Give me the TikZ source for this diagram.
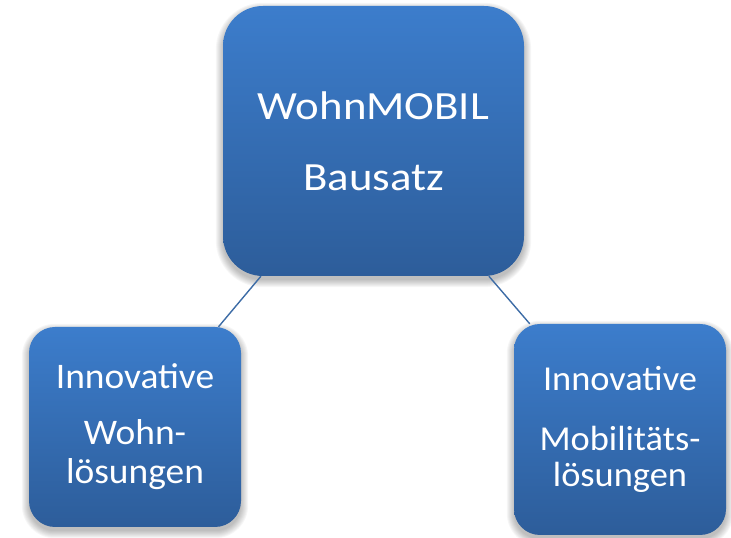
\documentclass[tikz,border=0pt]{standalone}
\usepackage{fontspec}
\setmainfont{Carlito}
\newfontfamily\kitfont[FakeStretch=1.12]{Carlito}
\newfontfamily\sidefont[FakeStretch=1.04]{Carlito}
\usetikzlibrary{backgrounds}
\definecolor{boxtop}{HTML}{3C7DCC}
\definecolor{boxbottom}{HTML}{2D5D9A}
\definecolor{linkblue}{HTML}{3D6CA6}
\tikzset{
  topic/.style={rectangle, inner sep=0pt, align=center, text=white,
    top color=boxtop, bottom color=boxbottom},
  link/.style={draw=linkblue, line width=1.4pt},
}
\newcommand{\softshadow}[2]{%
  \foreach \i in {0,1,...,7}{%
    \fill[black, opacity=0.035, rounded corners=#2+\i pt]
      ([xshift=-\i pt, yshift=-4pt-\i pt]#1.south west) rectangle
      ([xshift=\i pt, yshift=-4pt+\i pt]#1.north east);
  }%
}
\begin{document}
\begin{tikzpicture}[x=1pt, y=1pt]
  \useasboundingbox (0,0) rectangle (731,538);

  \node[topic, rounded corners=40pt, minimum width=301pt, minimum height=270pt,
        font=\kitfont\fontsize{40}{71}\selectfont] (kit) at (373.5,397)
        {WohnMOBIL\\Bausatz};
  \node[topic, rounded corners=26pt, minimum width=212pt, minimum height=200pt,
        font=\sidefont\fontsize{36}{39}\selectfont] (wohn) at (135,111)
        {Innovative\\[17pt]Wohn-\\lösungen};
  \node[topic, rounded corners=26pt, minimum width=212pt, minimum height=211pt,
        font=\sidefont\fontsize{35}{36}\selectfont] (mobil) at (620,108.5)
        {Innovative\\[24pt]Mobilitäts-\\lösungen};

  \begin{scope}[on background layer]
    \softshadow{kit}{40pt}
    \softshadow{wohn}{26pt}
    \softshadow{mobil}{26pt}
    \draw[link] (kit) -- (wohn);
    \draw[link] (kit) -- (mobil);
  \end{scope}
\end{tikzpicture}
\end{document}
